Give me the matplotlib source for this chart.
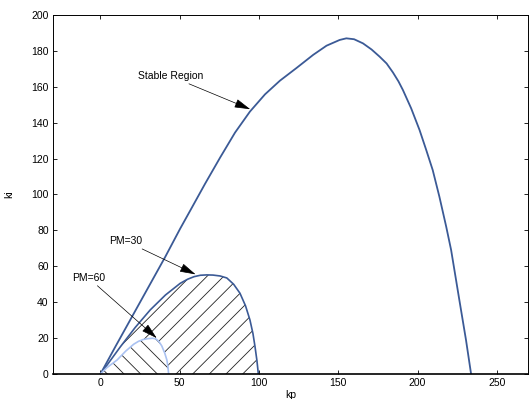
import numpy as np
import matplotlib
matplotlib.use("Agg")
import matplotlib.pyplot as plt

# --- data (kp, ki)
kp_stable = [0, 9.4, 19.9, 30.4, 40.9, 50.3, 56.6, 66, 75.5, 84.9, 94.3, 103.8,
             113.2, 123.7, 134.2, 142.6, 150.9, 155.1, 160, 165.6, 171, 176.1,
             180.5, 184.5, 188, 190.8, 196, 201.3, 205.5, 209.6, 213.8, 218.1,
             221.2, 226.4, 230.6, 233.8]
ki_stable = [0, 15.2, 31.9, 48.6, 65.3, 81, 91, 106, 120.6, 134.5, 146.2, 155.8,
             163.4, 170.5, 177.8, 182.9, 186.1, 187, 186.5, 184.2, 180.8, 176.8,
             173, 168, 163, 158.2, 148, 135.9, 124.8, 113.6, 98.8, 82.1, 69.1,
             41.2, 18.9, 0]

kp_pm30 = [0, 5, 12.6, 22, 31.4, 41, 50.3, 55, 59, 63, 67.1, 71, 75.5, 79.7,
           84, 88, 91.5, 94.3, 96.2, 97.5, 98.7, 99.6]
ki_pm30 = [0, 6, 15.2, 26, 35.7, 44, 50.5, 52.8, 54.2, 55, 55.2, 55.1, 54.6,
           53.5, 50, 45, 38, 30.1, 22.5, 15.2, 7.5, 0]

kp_pm60 = [0, 4, 10.5, 16, 21, 24, 27, 30, 33, 35, 36.8, 38.7, 40.6, 41.9,
           42.6, 43]
ki_pm60 = [0, 3.5, 7.8, 12.8, 16.6, 18.2, 19.2, 19.7, 19.9, 19.5, 18.2, 15.6,
           11.5, 7.8, 3.8, 0]

xticks = [0, 50, 100, 150, 200, 250]
yticks = [0, 20, 40, 60, 80, 100, 120, 140, 160, 180, 200]

dark = '#3b5a96'
light = '#aac2f2'

plt.rcParams['font.family'] = ['Liberation Sans', 'DejaVu Sans']
plt.rcParams['hatch.linewidth'] = 0.6

fig = plt.figure(figsize=(5.29, 3.99), dpi=100)
ax = fig.add_axes([0.1, 0.0627, 0.899, 0.8997])

# hatched regions
ax.fill(kp_pm30, ki_pm30, facecolor='none', edgecolor='#222222', hatch='//', lw=0)
ax.fill(kp_pm60, ki_pm60, facecolor='white', edgecolor='#222222', hatch='\\\\', lw=0)

ax.plot(kp_stable, ki_stable, color=dark, lw=1.3)
ax.plot(kp_pm30, ki_pm30, color=dark, lw=1.2)
ax.plot(kp_pm60, ki_pm60, color=light, lw=1.2)

arr = dict(arrowstyle='-|>,head_length=0.9,head_width=0.25', color='k', lw=0.5,
           mutation_scale=11, shrinkA=0, shrinkB=0)
ax.annotate('Stable Region', xy=(94.5, 147.5), xytext=(44, 166), fontsize=7.5,
            ha='center', va='center', arrowprops=arr)
ax.annotate('PM=30', xy=(60, 55.5), xytext=(16, 74), fontsize=7.5,
            ha='center', va='center', arrowprops=arr)
ax.annotate('PM=60', xy=(35.5, 20), xytext=(-7.5, 53.5), fontsize=7.5,
            ha='center', va='center', arrowprops=arr)

ax.set_xlim(-30, 270)
ax.set_ylim(0, 200)
ax.set_xticks(xticks)
ax.set_yticks(yticks)
ax.tick_params(direction='in', length=3, width=0.6, labelsize=7.5,
               top=True, right=True, pad=3)
for s in ax.spines.values():
    s.set_linewidth(0.7)
ax.spines['bottom'].set_linewidth(1.2)
ax.set_xlabel('kp', fontsize=7.5, labelpad=1)
ax.set_ylabel('ki', fontsize=7.5, labelpad=12)

fig.savefig('out.png', dpi=100)
